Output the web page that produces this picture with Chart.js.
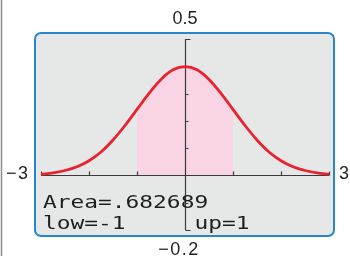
<!DOCTYPE html>
<html>
<head>
<meta charset="utf-8">
<style>
  html, body { margin: 0; padding: 0; background: #ffffff; }
  #wrap { position: relative; width: 350px; height: 256px; }
  canvas { display: block; }
</style>
<script src="https://cdn.jsdelivr.net/npm/chart.js@4/dist/chart.umd.min.js"></script>
</head>
<body>
<div id="wrap"><canvas id="c" width="350" height="256"></canvas></div>
<script>
// Curve values (x from -3 to 3 by 0.25)
const curveX = [-3, -2.75, -2.5, -2.25, -2, -1.75, -1.5, -1.25, -1, -0.75, -0.5, -0.25, 0,
                0.25, 0.5, 0.75, 1, 1.25, 1.5, 1.75, 2, 2.25, 2.5, 2.75, 3];
const curveY = [0.004, 0.009, 0.018, 0.032, 0.054, 0.086, 0.130, 0.183, 0.242, 0.301, 0.352, 0.387, 0.399,
                0.387, 0.352, 0.301, 0.242, 0.183, 0.130, 0.086, 0.054, 0.032, 0.018, 0.009, 0.004];
// Shaded region bounds
const lowBound = -1;
const upBound = 1;
// Window settings / labels
const xMin = -3, xMax = 3, xScl = 1;
const yMin = -0.2, yMax = 0.5, yScl = 0.1;
const xMinLabel = "\u22123";
const xMaxLabel = "3";
const yMaxLabel = "0.5";
const yMinLabel = "\u22120.2";
const areaText = "Area=.682689";
const lowText = "low=-1";
const upText = "up=1";

const curveData = curveX.map((x, i) => ({x: x, y: curveY[i]}));
const shadeData = curveData.filter(p => p.x >= lowBound && p.x <= upBound);

function wideText(ctx, text, x, y, sx) {
  ctx.save();
  ctx.translate(x, y);
  ctx.scale(sx, 1);
  ctx.fillText(text, 0, 0);
  ctx.restore();
}

const screenPlugin = {
  id: 'screen',
  beforeDraw(chart) {
    const ctx = chart.ctx, a = chart.chartArea;
    ctx.save();
    // left page edge line
    ctx.strokeStyle = '#8a8a8a';
    ctx.lineWidth = 1.5;
    ctx.beginPath(); ctx.moveTo(1.5, 0); ctx.lineTo(1.5, 256); ctx.stroke();
    // calculator screen
    const L = a.left - 6, T = a.top - 6, R = a.right + 5, B = a.bottom + 6;
    ctx.beginPath();
    ctx.roundRect(L, T, R - L, B - T, 6);
    ctx.fillStyle = '#e6e7e7';
    ctx.fill();
    ctx.lineWidth = 2;
    ctx.strokeStyle = '#2a86c8';
    ctx.stroke();
    // outside labels
    const xs = chart.scales.x;
    const cx = xs.getPixelForValue(0);
    const yAxisPx = 174;
    ctx.fillStyle = '#231f20';
    ctx.font = '18px "Liberation Sans"';
    ctx.textBaseline = 'middle';
    ctx.textAlign = 'center';
    ctx.fillText(yMaxLabel, cx, 19.5);
    ctx.letterSpacing = '1.5px';
    ctx.fillText(yMinLabel, cx - 6, 250);
    ctx.textAlign = 'right';
    ctx.fillText(xMinLabel, 29.5, yAxisPx);
    ctx.letterSpacing = '0px';
    ctx.textAlign = 'left';
    ctx.fillText(xMaxLabel, 339, yAxisPx);
    ctx.restore();
  },
  afterDatasetDraw(chart, args) {
    if (args.index !== 0) return;
    const ctx = chart.ctx;
    const xs = chart.scales.x, ys = chart.scales.y;
    const x0 = Math.round(xs.getPixelForValue(0)) + 0.5;
    const y0 = Math.round(ys.getPixelForValue(0)) + 0.5;
    const xl = xs.getPixelForValue(xMin), xr = xs.getPixelForValue(xMax);
    const yt = ys.getPixelForValue(yMax), yb = ys.getPixelForValue(yMin);
    ctx.save();
    ctx.strokeStyle = '#3a3a3a';
    ctx.lineWidth = 1.2;
    ctx.beginPath();
    ctx.moveTo(xl, y0); ctx.lineTo(xr, y0);
    ctx.moveTo(x0, yt); ctx.lineTo(x0, yb);
    for (let v = xMin; v <= xMax + 1e-9; v += xScl) {
      if (Math.abs(v) < 1e-9) continue;
      const px = Math.round(xs.getPixelForValue(v)) + 0.5;
      ctx.moveTo(px, y0); ctx.lineTo(px, y0 - 4);
    }
    for (let k = Math.round(yMin / yScl); k <= Math.round(yMax / yScl); k++) {
      if (k === 0) continue;
      const py = Math.round(ys.getPixelForValue(k * yScl)) + 0.5;
      const len = (k === Math.round(yMin / yScl) || k === Math.round(yMax / yScl)) ? 5 : 3;
      ctx.moveTo(x0, py); ctx.lineTo(x0 + len, py);
    }
    ctx.stroke();
    // calculator text
    ctx.fillStyle = '#1e1e1e';
    ctx.font = '18px "DejaVu Sans Mono"';
    ctx.textAlign = 'left';
    ctx.textBaseline = 'alphabetic';
    const a = chart.chartArea;
    const sx = 1.27;
    wideText(ctx, areaText, a.left + 2, a.bottom - 22, sx);
    wideText(ctx, lowText, a.left + 2, a.bottom - 1, sx);
    wideText(ctx, upText, x0 + 9, a.bottom - 1, sx);
    ctx.restore();
  }
};

new Chart(document.getElementById('c'), {
  type: 'line',
  data: {
    datasets: [
      {
        data: shadeData,
        fill: 'origin',
        backgroundColor: '#f8d4e5',
        borderWidth: 0,
        borderColor: 'rgba(0,0,0,0)',
        pointRadius: 0,
        cubicInterpolationMode: 'monotone',
        order: 1
      },
      {
        data: curveData,
        fill: false,
        borderColor: '#e8232d',
        borderWidth: 2.8,
        pointRadius: 0,
        cubicInterpolationMode: 'monotone',
        order: 0
      }
    ]
  },
  options: {
    responsive: false,
    animation: false,
    events: [],
    layout: { padding: { left: 41, right: 21, top: 39, bottom: 26 } },
    plugins: { legend: { display: false }, tooltip: { enabled: false } },
    scales: {
      x: { type: 'linear', min: xMin, max: xMax, display: false },
      y: { type: 'linear', min: yMin, max: yMax, display: false }
    }
  },
  plugins: [screenPlugin]
});
</script>
</body>
</html>
